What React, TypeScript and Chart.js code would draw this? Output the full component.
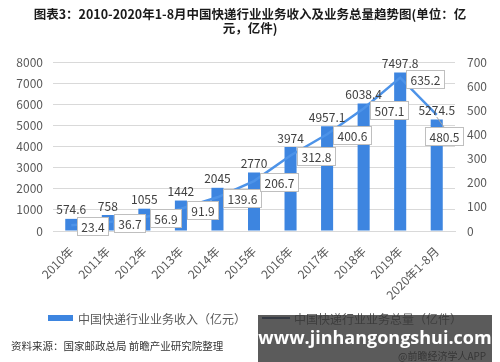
import React, { useEffect, useRef } from "react";
import { Chart, registerables } from "chart.js";

Chart.register(...registerables);

const categories = ["2010年", "2011年", "2012年", "2013年", "2014年", "2015年", "2016年", "2017年", "2018年", "2019年", "2020年1-8月"];
const revenue = [574.6, 758, 1055, 1442, 2045, 2770, 3974, 4957.1, 6038.4, 7497.8, 5274.5];
const volume = [23.4, 36.7, 56.9, 91.9, 139.6, 206.7, 312.8, 400.6, 507.1, 635.2, 480.5];
const revenueLabel = "中国快递行业业务收入（亿元）";
const volumeLabel = "中国快递行业业务总量（亿件）";
const titleLine1 = "图表3：2010-2020年1-8月中国快递行业业务收入及业务总量趋势图(单位：亿";
const titleLine2 = "元，亿件)";
const sourceText = "资料来源：国家邮政总局 前瞻产业研究院整理";
const watermarkText = "www.jinhangongshui.com";
const appText = "@前瞻经济学人APP";

const FONT = '"Noto Sans CJK SC", "Noto Sans", sans-serif';
const BAR_COLOR = "#3d85e0";
const LINE_COLOR = "#4d93e8";

const labelPlugin = {
  id: "valueLabels",
  afterDatasetsDraw(chart: any) {
    const ctx = chart.ctx;
    const area = chart.chartArea;
    ctx.save();
    ctx.font = `12px ${FONT}`;
    // bar labels
    const barMeta = chart.getDatasetMeta(0);
    ctx.fillStyle = "#404040";
    ctx.textAlign = "center";
    ctx.textBaseline = "bottom";
    barMeta.data.forEach((el: any, i: number) => {
      ctx.fillText(String(revenue[i]), el.x, el.y - 3);
    });
    // line labels in boxes
    const lineMeta = chart.getDatasetMeta(1);
    lineMeta.data.forEach((el: any, i: number) => {
      const txt = String(volume[i]);
      const tw = ctx.measureText(txt).width;
      const w = Math.round(tw + 8);
      const h = 18;
      let left = Math.round(el.x + 6);
      let top = Math.round(el.y - h / 2 + 1);
      let below = false;
      if (left + w > area.right + 10) {
        below = true;
        left = Math.round(Math.min(el.x - w / 2 + 9, area.right + 8 - w));
        top = Math.round(el.y + 12);
      }
      if (below) {
        ctx.strokeStyle = "#a6a6a6";
        ctx.lineWidth = 1;
        ctx.beginPath();
        ctx.moveTo(el.x, el.y + 2);
        ctx.lineTo(left + w / 2, top);
        ctx.stroke();
      }
      ctx.fillStyle = "#ffffff";
      ctx.fillRect(left + 0.5, top + 0.5, w, h);
      ctx.strokeStyle = "#bfbfbf";
      ctx.lineWidth = 1;
      ctx.strokeRect(left + 0.5, top + 0.5, w, h);
      ctx.fillStyle = "#404040";
      ctx.textAlign = "center";
      ctx.textBaseline = "middle";
      ctx.fillText(txt, left + 0.5 + w / 2, top + 0.5 + h / 2 + 1);
    });
    ctx.restore();
  },
};

export default function App() {
  const canvasRef = useRef<HTMLCanvasElement | null>(null);

  useEffect(() => {
    if (!canvasRef.current) return;
    const chart = new Chart(canvasRef.current, {
      type: "bar",
      data: {
        labels: categories,
        datasets: [
          {
            type: "bar",
            label: revenueLabel,
            data: revenue,
            backgroundColor: BAR_COLOR,
            yAxisID: "y",
            barPercentage: 0.33,
            categoryPercentage: 1,
            order: 1,
          } as any,
          {
            type: "line",
            label: volumeLabel,
            data: volume,
            borderColor: LINE_COLOR,
            borderWidth: 2.5,
            pointRadius: 0,
            tension: 0,
            yAxisID: "y1",
            order: 0,
          } as any,
        ],
      },
      options: {
        responsive: false,
        animation: false,
        devicePixelRatio: 1,
        layout: { padding: { top: 62, left: 0, right: 0, bottom: 0 } },
        plugins: {
          legend: { display: false },
          title: { display: false },
          tooltip: { enabled: false },
        },
        scales: {
          x: {
            grid: { display: false, drawTicks: false },
            border: { display: true, color: "#d9d9d9" },
            ticks: {
              minRotation: 45,
              maxRotation: 45,
              autoSkip: false,
              color: "#595959",
              padding: 13,
              font: { size: 12, family: FONT },
            },
            afterFit: (s: any) => {
              s.height = 131;
            },
          },
          y: {
            position: "left",
            min: 0,
            max: 8000,
            ticks: {
              stepSize: 1000,
              color: "#595959",
              padding: 10,
              font: { size: 12, family: FONT },
              callback: (v: any) => String(v),
            },
            grid: { color: "#d9d9d9", drawTicks: false },
            border: { display: false },
            afterFit: (s: any) => {
              s.width = 53;
            },
          },
          y1: {
            position: "right",
            min: 0,
            max: 700,
            ticks: {
              stepSize: 100,
              color: "#595959",
              padding: 12,
              font: { size: 12, family: FONT },
              callback: (v: any) => String(v),
            },
            grid: { display: false, drawOnChartArea: false, drawTicks: false },
            border: { display: false },
            afterFit: (s: any) => {
              s.width = 45;
            },
          },
        },
      } as any,
      plugins: [labelPlugin],
    });
    return () => chart.destroy();
  }, []);

  return (
    <div style={{ position: "absolute", left: 0, top: 0, width: 500, height: 362, background: "#ffffff", overflow: "hidden" }}>
      <canvas ref={canvasRef} width={500} height={362} style={{ position: "absolute", left: 0, top: 0 }} />
      <div
        style={{
          position: "absolute",
          left: 0,
          top: 7,
          width: 500,
          textAlign: "center",
          fontFamily: FONT,
          fontWeight: "bold",
          fontSize: 12.5,
          lineHeight: "14px",
          color: "#1a1a1a",
          whiteSpace: "nowrap",
        }}
      >
        {titleLine1}
        <br />
        {titleLine2}
      </div>
      <div style={{ position: "absolute", left: 48, top: 309, height: 18, display: "flex", alignItems: "center", fontFamily: FONT, fontSize: 12, color: "#595959", whiteSpace: "nowrap" }}>
        <span style={{ display: "inline-block", width: 25, height: 6, background: BAR_COLOR, marginRight: 5 }} />
        <span>{revenueLabel}</span>
        <span style={{ display: "inline-block", width: 28, height: 2, background: "#2f4a78", marginLeft: 16, marginRight: 4 }} />
        <span>{volumeLabel}</span>
      </div>
      <div style={{ position: "absolute", left: 11, top: 338, fontFamily: FONT, fontSize: 10.5, color: "#333333", whiteSpace: "nowrap" }}>{sourceText}</div>
      <div style={{ position: "absolute", left: 398, top: 348, fontFamily: FONT, fontSize: 10, color: "#333333", whiteSpace: "nowrap" }}>{appText}</div>
      <div
        style={{
          position: "absolute",
          left: 258,
          top: 315,
          width: 234,
          height: 47,
          background: "rgba(55,55,55,0.82)",
        }}
      />
      <div
        style={{
          position: "absolute",
          left: 258,
          top: 325,
          width: 234,
          textAlign: "center",
          fontFamily: '"Open Sans", "DejaVu Sans", sans-serif',
          fontWeight: "bold",
          fontSize: 18,
          color: "#ffffff",
          whiteSpace: "nowrap",
        }}
      >
        {watermarkText}
      </div>
    </div>
  );
}
